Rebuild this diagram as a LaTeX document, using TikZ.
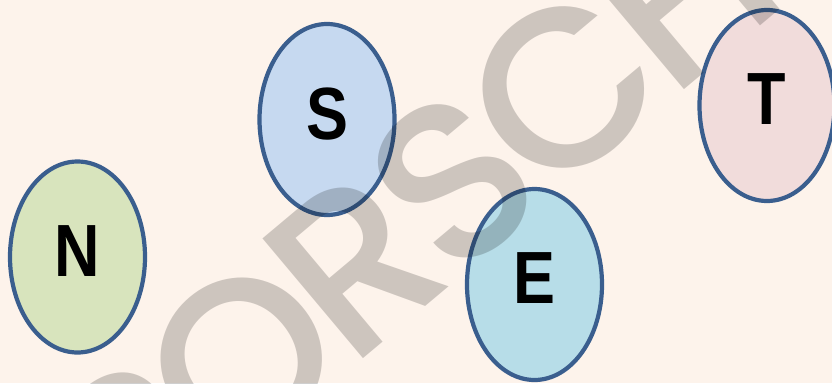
\documentclass[tikz,border=0pt]{standalone}
\usepackage{fontspec}
\setmainfont{Liberation Sans}[FakeStretch=0.85]
\newfontfamily\markfont{Poppins Medium}[LetterSpace=-5]
\usetikzlibrary{shapes.geometric}

\definecolor{pagebg}{HTML}{FDF3EB}
\definecolor{ringblue}{HTML}{3A5E8E}
\definecolor{nfill}{HTML}{D8E4BD}
\definecolor{sfill}{HTML}{C6D9F0}
\definecolor{efill}{HTML}{B7DDE8}
\definecolor{tfill}{HTML}{F1DCDB}

\begin{document}
\begin{tikzpicture}[
    x=1pt, y=-1pt,
    letter/.style={ellipse, draw=ringblue, line width=4.2pt, minimum width=135pt, minimum height=191pt,
        text depth=12pt, font=\bfseries\fontsize{74}{74}\selectfont},
    wmark/.style={text=black, text opacity=0.19, rotate=40, font=\markfont\fontsize{225}{225}\selectfont}
]

\useasboundingbox (0,0) rectangle (832,383);
\fill[pagebg] (0,0) rectangle (832,383);
\clip (0,0) rectangle (832,383);

\node[letter, fill=nfill] (N) at (77.5,257) {N};
\node[letter, fill=sfill] (S) at (327,119.5) {S};
\node[letter, fill=efill] (E) at (534.5,284.5) {E};
\node[letter, fill=tfill] (T) at (767,105.5) {T};

% watermark across the picture
\node[wmark] (mark) at (452,182) {PORSCHE};

\end{tikzpicture}
\end{document}
